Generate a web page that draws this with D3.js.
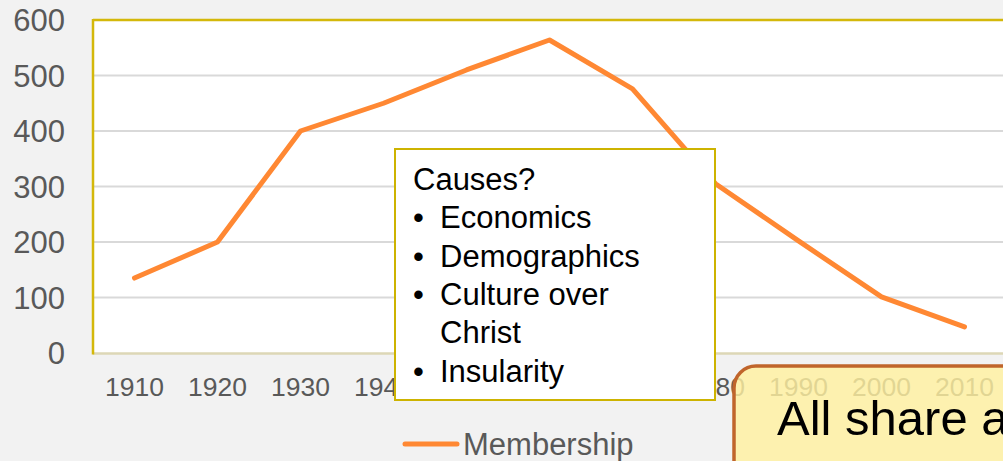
<!DOCTYPE html>
<html>
<head>
<meta charset="utf-8">
<script src="https://cdn.jsdelivr.net/npm/d3@7"></script>
<style>
  html, body { margin: 0; padding: 0; background: #F2F2F2; overflow: hidden; }
  svg { display: block; font-family: "Liberation Sans", Arial, sans-serif; }
</style>
</head>
<body>
<svg id="chart" width="1003" height="461"></svg>
<script>
const years = ["1910","1920","1930","1940","1950","1960","1970","1980","1990","2000","2010"];
const membership = [135, 200, 400, 450, 510, 564, 476, 305, 202, 101, 47];
const yTicks = [0, 100, 200, 300, 400, 500, 600];
const seriesName = "Membership";
const causesTitle = "Causes?";
const causesItems = [["Economics"], ["Demographics"], ["Culture over", "Christ"], ["Insularity"]];
const overlayText = "All share a";

(function () {
const svg = d3.select("#chart");
const pLeft = 93, pTop = 20, pBottom = 353, pRight = 93 + 83 * years.length;

const x = d3.scaleBand().domain(years).range([pLeft, pRight]).paddingInner(0).paddingOuter(0);
const y = d3.scaleLinear().domain([0, 600]).range([pBottom, pTop]);

// plot area
svg.append("rect").attr("x", pLeft).attr("y", pTop).attr("width", pRight - pLeft).attr("height", pBottom - pTop)
  .attr("fill", "#FFFFFF");

// gridlines
svg.append("g").selectAll("line").data(yTicks.filter(d => d > 0 && d < 600)).join("line")
  .attr("x1", pLeft).attr("x2", pRight)
  .attr("y1", d => y(d)).attr("y2", d => y(d))
  .attr("stroke", "#D9D9D9").attr("stroke-width", 2);

// borders
svg.append("line").attr("x1", pLeft).attr("x2", pRight).attr("y1", pTop).attr("y2", pTop)
  .attr("stroke", "#D4B80A").attr("stroke-width", 2.5);
svg.append("line").attr("x1", pLeft).attr("x2", pRight).attr("y1", pBottom + 0.5).attr("y2", pBottom + 0.5)
  .attr("stroke", "#DDD7B6").attr("stroke-width", 2.5);
svg.append("line").attr("x1", pLeft).attr("x2", pLeft).attr("y1", pTop - 1).attr("y2", pBottom + 1.5)
  .attr("stroke", "#D4B80A").attr("stroke-width", 2.5);

// y axis labels
const yAxis = d3.axisLeft(y).tickValues(yTicks).tickSize(0).tickPadding(0);
const yg = svg.append("g").attr("transform", "translate(65,0)").call(yAxis);
yg.select(".domain").remove();
yg.selectAll("text").attr("font-size", 31).attr("fill", "#595959")
  .attr("font-family", "'Liberation Sans', Arial, sans-serif").attr("dy", "0.35em");

// x axis labels
const xAxis = d3.axisBottom(x).tickSize(0).tickPadding(0);
const xg = svg.append("g").attr("transform", "translate(0,396)").call(xAxis);
xg.select(".domain").remove();
xg.selectAll("text").attr("font-size", 26.5).attr("fill", "#595959")
  .attr("font-family", "'Liberation Sans', Arial, sans-serif").attr("dy", 0).attr("y", 0);

// line
const line = d3.line().x((d, i) => x(years[i]) + x.bandwidth() / 2).y(d => y(d));
svg.append("path").datum(membership).attr("d", line)
  .attr("fill", "none").attr("stroke", "#FF8833").attr("stroke-width", 5)
  .attr("stroke-linejoin", "round").attr("stroke-linecap", "round");

// legend
svg.append("line").attr("x1", 405).attr("x2", 457).attr("y1", 444).attr("y2", 444)
  .attr("stroke", "#FF8833").attr("stroke-width", 5).attr("stroke-linecap", "round");
svg.append("text").attr("x", 463).attr("y", 455).attr("font-size", 31).attr("fill", "#595959").text(seriesName);

// callout box
svg.append("rect").attr("x", 395).attr("y", 149).attr("width", 320).attr("height", 251)
  .attr("fill", "#FFFFFF").attr("stroke", "#CDB300").attr("stroke-width", 2);
const tg = svg.append("g").attr("font-size", 31).attr("fill", "#000000");
tg.append("text").attr("x", 413).attr("y", 190).text(causesTitle);
let row = 1;
causesItems.forEach(item => {
  item.forEach((ln, k) => {
    const yy = 190 + row * 38.3;
    if (k === 0) tg.append("text").attr("x", 413).attr("y", yy).text("•");
    tg.append("text").attr("x", 440).attr("y", yy).text(ln);
    row++;
  });
});

// overlay rounded box
svg.append("rect").attr("x", 734).attr("y", 366).attr("width", 320).attr("height", 140).attr("rx", 22)
  .attr("fill", "rgb(255,240,160)").attr("fill-opacity", 0.82)
  .attr("stroke", "#C0652B").attr("stroke-width", 3.5);
svg.append("text").attr("x", 777).attr("y", 435).attr("font-size", 49).attr("fill", "#000000").text(overlayText);
})();
</script>
</body>
</html>
